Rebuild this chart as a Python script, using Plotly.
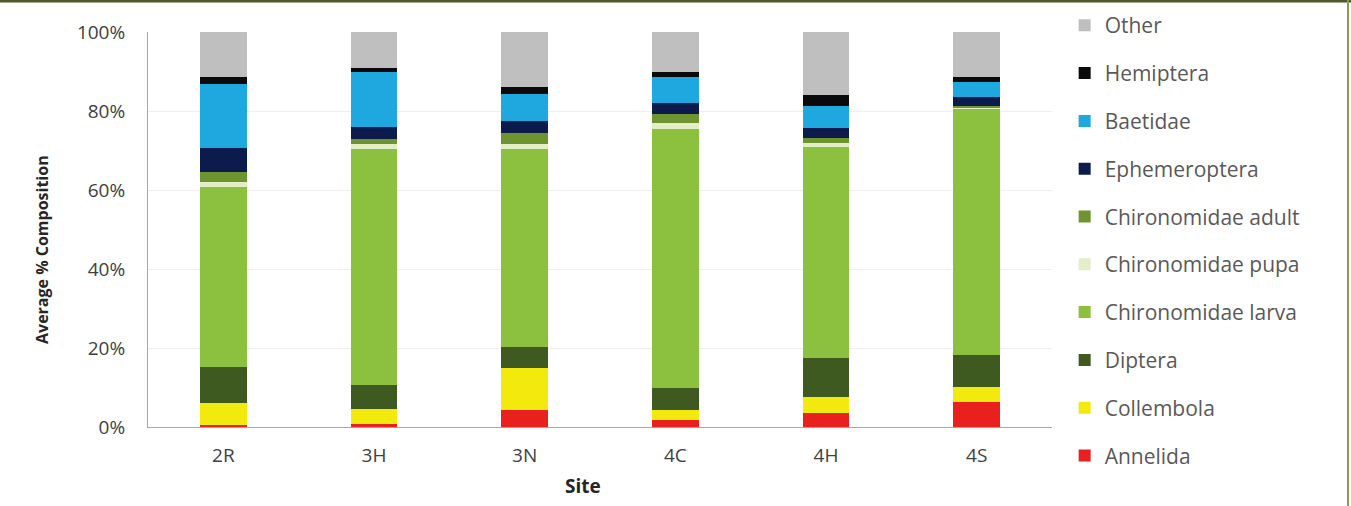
import plotly.graph_objects as go

# Sites along the x axis
sites = ["2R", "3H", "3N", "4C", "4H", "4S"]

# Average % composition per taxon at each site (bottom of stack first)
annelida = [0.5, 0.8, 4.3, 1.9, 3.5, 6.4]
collembola = [5.7, 3.7, 10.6, 2.4, 4.2, 3.8]
diptera = [9.1, 6.1, 5.4, 5.5, 9.7, 8.0]
chiro_larva = [45.5, 59.9, 50.2, 65.6, 53.4, 62.5]
chiro_pupa = [1.3, 1.1, 1.1, 1.5, 1.0, 0.3]
chiro_adult = [2.5, 1.2, 2.8, 2.3, 1.3, 0.3]
ephemeroptera = [6.1, 3.2, 3.1, 2.9, 2.5, 2.3]
baetidae = [16.1, 14.0, 6.8, 6.6, 5.7, 3.8]
hemiptera = [1.9, 1.0, 1.9, 1.3, 2.8, 1.3]
other = [11.3, 9.0, 13.8, 10.0, 15.9, 11.3]

y_ticks = [0, 20, 40, 60, 80, 100]
y_tick_labels = ["0%", "20%", "40%", "60%", "80%", "100%"]

series = [
    ("Annelida", annelida, "#E8211F"),
    ("Collembola", collembola, "#F3EA0D"),
    ("Diptera", diptera, "#3F5A20"),
    ("Chironomidae larva", chiro_larva, "#8CC13F"),
    ("Chironomidae pupa", chiro_pupa, "#E4EEC6"),
    ("Chironomidae adult", chiro_adult, "#6E9430"),
    ("Ephemeroptera", ephemeroptera, "#0B1C4C"),
    ("Baetidae", baetidae, "#1FA8E0"),
    ("Hemiptera", hemiptera, "#0A0A0A"),
    ("Other", other, "#BFBFBF"),
]

fig = go.Figure()
n = len(series)
for i, (name, vals, color) in enumerate(series):
    fig.add_trace(go.Bar(
        x=sites, y=vals, name=name, legendgroup=name,
        legendrank=n - i,  # top of the stack listed first
        marker=dict(color=color, line=dict(width=0)),
    ))

font_family = "Open Sans, Noto Sans, DejaVu Sans, sans-serif"

fig.update_layout(
    barmode="stack",
    bargap=0.69,
    width=1351, height=506,
    margin=dict(l=148, r=299, t=32, b=79, autoexpand=False),
    paper_bgcolor="white",
    plot_bgcolor="white",
    font=dict(family=font_family, size=19, color="#404040"),
    showlegend=True,
    legend=dict(
        x=1.014, xanchor="left",
        y=1.068, yanchor="top",
        traceorder="grouped",
        tracegroupgap=17.5,
        font=dict(size=21, color="#595959"),
        itemwidth=30,
        maxheight=1.0,
        bgcolor="rgba(0,0,0,0)",
    ),
    xaxis=dict(
        showline=True, linecolor="#A6A6A6", linewidth=1,
        ticks="", tickfont=dict(size=19, color="#404040"),
        ticklabelstandoff=11,
        showgrid=False,
    ),
    yaxis=dict(
        range=[0, 100],
        tickvals=y_ticks, ticktext=y_tick_labels,
        showline=True, linecolor="#A6A6A6", linewidth=1,
        ticks="", tickfont=dict(size=19, color="#404040"),
        ticklabelstandoff=18,
        showgrid=True, gridcolor="#EEEEEE", gridwidth=1,
        zeroline=False,
    ),
)

# Axis titles
fig.add_annotation(text="<b>Site</b>", xref="paper", yref="paper",
                   x=(583 - 148) / 904, y=-59 / 395, showarrow=False,
                   xanchor="center", yanchor="middle",
                   font=dict(size=19, color="#262626"))
fig.add_annotation(text="<b>Average % Composition</b>", xref="paper", yref="paper",
                   x=(42 - 148) / 904, y=(427 - 250) / 395, showarrow=False,
                   xanchor="center", yanchor="middle",
                   textangle=-90, font=dict(size=16, color="#262626"))

# Outer frame along the top and right edges of the figure
fig.add_shape(type="line", xref="paper", yref="paper",
              x0=-148 / 904, x1=(1351 - 148) / 904, y0=(506 - 79 - 1) / 395, y1=(506 - 79 - 1) / 395,
              line=dict(color="#4E5A2A", width=3))
fig.add_shape(type="line", xref="paper", yref="paper",
              x0=(1348 - 148) / 904, x1=(1348 - 148) / 904, y0=-79 / 395, y1=(506 - 79) / 395,
              line=dict(color="#8A9A5B", width=2))

fig.write_html("out.html")
